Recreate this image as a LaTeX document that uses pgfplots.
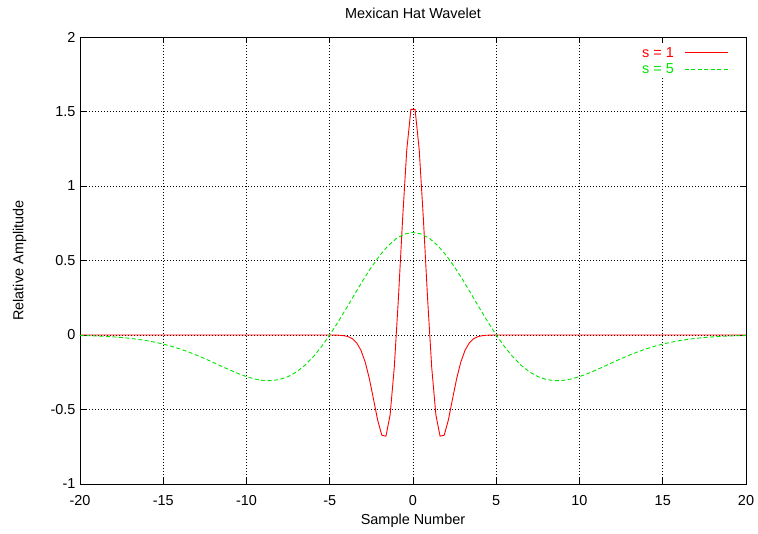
\documentclass[border=0pt]{standalone}
\usepackage{fontspec}
\setmainfont{Liberation Sans}
\usepackage{pgfplots}
\pgfplotsset{compat=1.18}

% Mexican hat wavelet sampled at two scales
\pgfplotstableread{
x y
-20 0
-5.125 0
-4.875 -0.0002
-4.625 -0.0007
-4.375 -0.0020
-4.125 -0.0050
-3.875 -0.0119
-3.625 -0.0264
-3.375 -0.0541
-3.125 -0.1028
-2.875 -0.1806
-2.625 -0.2912
-2.375 -0.4285
-2.125 -0.5699
-1.875 -0.6724
-1.625 -0.6791
-1.375 -0.5364
-1.125 -0.2187
-0.875 0.2477
-0.625 0.7769
-0.375 1.2416
-0.125 1.5139
0.125 1.5139
0.375 1.2416
0.625 0.7769
0.875 0.2477
1.125 -0.2187
1.375 -0.5364
1.625 -0.6791
1.875 -0.6724
2.125 -0.5699
2.375 -0.4285
2.625 -0.2912
2.875 -0.1806
3.125 -0.1028
3.375 -0.0541
3.625 -0.0264
3.875 -0.0119
4.125 -0.0050
4.375 -0.0020
4.625 -0.0007
4.875 -0.0002
5.125 0
20 0
}\scaleone

\pgfplotstableread{
x y
-20 -0.0035
-19.5 -0.0049
-19 -0.0068
-18.5 -0.0093
-18 -0.0126
-17.5 -0.0169
-17 -0.0224
-16.5 -0.0294
-16 -0.0380
-15.5 -0.0485
-15 -0.0611
-14.5 -0.0761
-14 -0.0934
-13.5 -0.1131
-13 -0.1349
-12.5 -0.1587
-12 -0.1838
-11.5 -0.2096
-11 -0.2349
-10.5 -0.2587
-10 -0.2793
-9.5 -0.2953
-9 -0.3050
-8.5 -0.3065
-8 -0.2984
-7.5 -0.2792
-7 -0.2479
-6.5 -0.2039
-6 -0.1474
-5.5 -0.0789
-5 0
-4.5 0.0872
-4 0.1799
-3.5 0.2746
-3 0.3678
-2.5 0.4554
-2 0.5335
-1.5 0.5985
-1 0.6474
-0.5 0.6777
0 0.6880
0.5 0.6777
1 0.6474
1.5 0.5985
2 0.5335
2.5 0.4554
3 0.3678
3.5 0.2746
4 0.1799
4.5 0.0872
5 0
5.5 -0.0789
6 -0.1474
6.5 -0.2039
7 -0.2479
7.5 -0.2792
8 -0.2984
8.5 -0.3065
9 -0.3050
9.5 -0.2953
10 -0.2793
10.5 -0.2587
11 -0.2349
11.5 -0.2096
12 -0.1838
12.5 -0.1587
13 -0.1349
13.5 -0.1131
14 -0.0934
14.5 -0.0761
15 -0.0611
15.5 -0.0485
16 -0.0380
16.5 -0.0294
17 -0.0224
17.5 -0.0169
18 -0.0126
18.5 -0.0093
19 -0.0068
19.5 -0.0049
20 -0.0035
}\scalefive

\definecolor{gpred}{RGB}{255,0,0}
\definecolor{gpgreen}{RGB}{0,230,0}

\begin{document}
\begin{tikzpicture}[font=\fontsize{14.5}{17}\selectfont]
\begin{axis}[
  at={(0,0)}, anchor=south west,
  scale only axis,
  width=666bp, height=447bp,
  xmin=-20, xmax=20, ymin=-1, ymax=2,
  xtick={-20,-15,...,20},
  xticklabels={-20,-15,-10,-5,0,5,10,15,20},
  ytick={-1,-0.5,0,0.5,1,1.5,2},
  yticklabels={-1,-0.5,0,0.5,1,1.5,2},
  tick align=inside,
  major tick length=6bp,
  minor tick num=0,
  tick style={black, line width=0.6bp},
  axis line style={black, line width=0.9bp},
  grid=major,
  major grid style={black, line width=0.6bp, dash pattern=on 1bp off 2bp},
  ticklabel style={font=\fontsize{14.5}{17}\selectfont},
  xticklabel style={yshift=-8bp},
  yticklabel style={xshift=-1bp},
  title={Mexican Hat Wavelet},
  every axis title shift=0pt,
  title style={at={(axis description cs:0.5,1.054)}, anchor=center, font=\fontsize{14.5}{17}\selectfont},
  xlabel={Sample Number},
  ylabel={Relative Amplitude},
  every axis x label/.style={at={(axis description cs:0.5,-0.0828)}, anchor=center, font=\fontsize{14.5}{17}\selectfont},
  every axis y label/.style={at={(axis description cs:-0.0908,0.5)}, anchor=center, rotate=90, font=\fontsize{14.5}{17}\selectfont},
  legend plot pos=right,
  legend cell align=right,
  legend style={draw=white, fill=white, inner sep=1bp,
    at={(axis description cs:0.9752,0.981)}, anchor=north east,
    font=\fontsize{14.5}{17}\selectfont, row sep=4bp,
    nodes={inner sep=0.5bp},
    /tikz/every odd column/.append style={column sep=10bp}},
  legend image code/.code={\draw[#1] (0bp,0bp) -- (43bp,0bp);},
]
\addplot[color=gpred, line width=0.9bp] table[x=x, y=y] {\scaleone};
\addlegendentry{\textcolor{gpred}{s = 1}}
\addplot[color=gpgreen, line width=0.9bp, dash pattern=on 4bp off 2.5bp] table[x=x, y=y] {\scalefive};
\addlegendentry{\textcolor{gpgreen}{s = 5}}
\end{axis}
\pgfresetboundingbox
\path (-80bp,-50bp) rectangle (678bp,484bp);
\end{tikzpicture}
\end{document}
